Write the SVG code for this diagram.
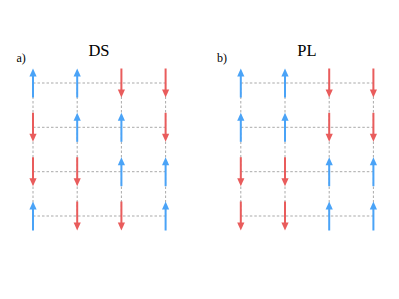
<svg xmlns="http://www.w3.org/2000/svg" width="399" height="299" viewBox="0 0 399 299">
<style>
.grid{stroke:#a9a9a9;stroke-width:1;stroke-dasharray:2.5 2;fill:none}
.blue{fill:#4aa3f7;stroke:#4aa3f7}
.red{fill:#e95c5c;stroke:#e95c5c}
text{font-family:"Liberation Serif","Times New Roman",serif;fill:#000}
.title{font-size:16.5px;text-anchor:middle}
.tag{font-size:12px}
</style>
<defs>
<g id="up"><line x1="0" y1="14.5" x2="0" y2="-8" stroke-width="2"/><polygon points="0,-14.5 -3.6,-6.5 3.6,-6.5" stroke="none"/></g>
<g id="down"><line x1="0" y1="-14.5" x2="0" y2="8" stroke-width="2"/><polygon points="0,14.5 -3.6,6.5 3.6,6.5" stroke="none"/></g>
</defs>
<rect width="399" height="299" fill="#fff"/>
<g id="connectors">
<g class="grid">
<path d="M33,83H165.6M33,127.3H165.6M33,171.7H165.6M33,216H165.6"/>
<path d="M33,83V216M77.2,83V216M121.4,83V216M165.6,83V216"/>
<path d="M240.8,83H373.4M240.8,127.3H373.4M240.8,171.7H373.4M240.8,216H373.4"/>
<path d="M240.8,83V216M285,83V216M329.2,83V216M373.4,83V216"/>
</g>
</g>
<g id="panel-a">
<text class="tag" x="16.5" y="62">a)</text>
<text class="title" x="99" y="56">DS</text>
<use href="#up" class="blue" x="33" y="83"/>
<use href="#up" class="blue" x="77.2" y="83"/>
<use href="#down" class="red" x="121.4" y="83"/>
<use href="#down" class="red" x="165.6" y="83"/>
<use href="#down" class="red" x="33" y="127.3"/>
<use href="#up" class="blue" x="77.2" y="127.3"/>
<use href="#up" class="blue" x="121.4" y="127.3"/>
<use href="#down" class="red" x="165.6" y="127.3"/>
<use href="#down" class="red" x="33" y="171.7"/>
<use href="#down" class="red" x="77.2" y="171.7"/>
<use href="#up" class="blue" x="121.4" y="171.7"/>
<use href="#up" class="blue" x="165.6" y="171.7"/>
<use href="#up" class="blue" x="33" y="216"/>
<use href="#down" class="red" x="77.2" y="216"/>
<use href="#down" class="red" x="121.4" y="216"/>
<use href="#up" class="blue" x="165.6" y="216"/>
</g>
<g id="panel-b">
<text class="tag" x="217" y="62">b)</text>
<text class="title" x="307" y="56">PL</text>
<use href="#up" class="blue" x="240.8" y="83"/>
<use href="#up" class="blue" x="285" y="83"/>
<use href="#down" class="red" x="329.2" y="83"/>
<use href="#down" class="red" x="373.4" y="83"/>
<use href="#up" class="blue" x="240.8" y="127.3"/>
<use href="#up" class="blue" x="285" y="127.3"/>
<use href="#down" class="red" x="329.2" y="127.3"/>
<use href="#down" class="red" x="373.4" y="127.3"/>
<use href="#down" class="red" x="240.8" y="171.7"/>
<use href="#down" class="red" x="285" y="171.7"/>
<use href="#up" class="blue" x="329.2" y="171.7"/>
<use href="#up" class="blue" x="373.4" y="171.7"/>
<use href="#down" class="red" x="240.8" y="216"/>
<use href="#down" class="red" x="285" y="216"/>
<use href="#up" class="blue" x="329.2" y="216"/>
<use href="#up" class="blue" x="373.4" y="216"/>
</g>
</svg>
